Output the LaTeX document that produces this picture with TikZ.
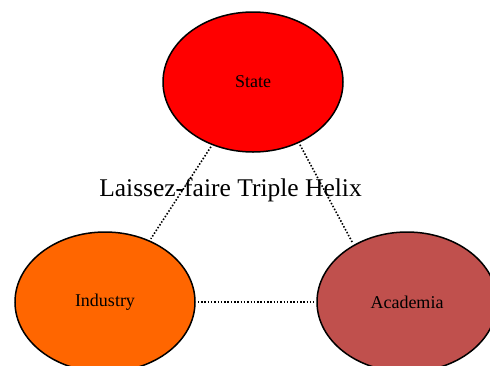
\documentclass[tikz,border=0pt]{standalone}
\usepackage{fontspec}
\setmainfont{Liberation Serif}
\usetikzlibrary{shapes.geometric}
\definecolor{stateRed}{HTML}{FF0000}
\definecolor{industryOrange}{HTML}{FF6600}
\definecolor{academiaRed}{HTML}{C0504D}
\tikzset{
  sphere/.style={ellipse,draw=black,line width=1.5pt,minimum width=180pt,minimum height=140pt,inner sep=0pt,font=\fontsize{18}{21}\selectfont},
  link/.style={line width=1.6pt,dash pattern=on 1.5pt off 1.8pt,shorten >=2pt,shorten <=2pt}
}
\begin{document}
\begin{tikzpicture}[x=1pt,y=-1pt]
    \useasboundingbox (0,0) rectangle (490,365);
    \node[sphere,fill=stateRed] (state) at (253,82) {State};
    \node[sphere,fill=industryOrange] (industry) at (105,302) {Industry};
    \node[sphere,fill=academiaRed] (academia) at (407,302) {Academia};
    \node[anchor=base,font=\fontsize{25.5}{30}\selectfont] (title) at (230.5,196.5) {Laissez-faire Triple Helix};
    \draw[link] (state.-123.6) -- (industry.54.2);
    \draw[link] (state.-53.9) -- (academia.133.3);
    \draw[link] (industry) -- (academia);
  \end{tikzpicture}
\end{document}
